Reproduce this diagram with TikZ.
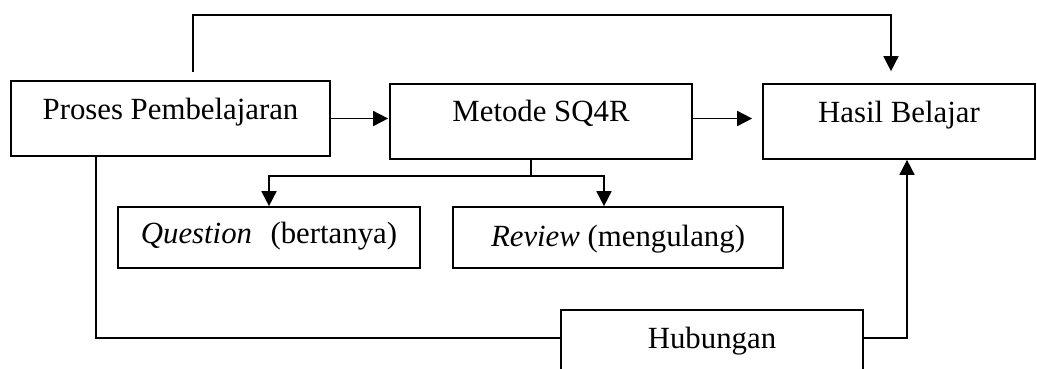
\documentclass[tikz,border=0pt]{standalone}
\usepackage{fontspec}
\setmainfont{Liberation Serif}
\usetikzlibrary{arrows.meta}
\begin{document}
\begin{tikzpicture}[x=1pt,y=-1pt,
  box/.style={draw,line width=1.7pt,inner sep=0pt,text height=21pt,text depth=3pt,
    font=\fontsize{30.8}{37}\selectfont},
  conn/.style={line width=1.7pt},
  arr/.style={conn,-{Triangle[length=15pt,width=15pt]}}]
\useasboundingbox (0,0) rectangle (1037,368);
\clip (0,0) rectangle (1037,368);
\node[box,minimum width=319pt,minimum height=75pt,text depth=20pt] (P) at (170.5,118.5) {Proses Pembelajaran};
\node[box,minimum width=302pt,minimum height=75pt,text depth=22pt] (M) at (541,121.5) {Metode SQ4R};
\node[box,minimum width=272pt,minimum height=75pt,text depth=20pt] (H) at (899,121.5) {Hasil Belajar};
\node[box,minimum width=302pt,minimum height=61pt,text depth=10pt] (Q) at (269,237.5) {\textit{Question}\hspace{0.6em}(bertanya)};
\node[box,minimum width=330pt,minimum height=61pt,text depth=4pt] (R) at (618,237.5) {\textit{Review} (mengulang)};
\node[box,minimum width=302pt,minimum height=62pt,text depth=7pt] (Hb) at (712,341) {Hubungan};
% top connector
\draw[arr] ([xshift=183pt,yshift=8pt]P.north west) -- ++(0,-57) -| ([xshift=-8pt,yshift=12pt]H.north);
% main row
\draw[arr,shorten >=1pt] (P.east) -- (P.east -| M.west);
\draw[arr,shorten >=10pt] (P.east -| M.east) -- (P.east -| H.west);
% branch from Metode
\coordinate (br) at ([xshift=-10pt,yshift=-16pt]M.south);
\draw[conn] ([xshift=-10pt]M.south) -- (br);
\draw[arr] (br) -| (Q.north);
\draw[arr] (br) -| ([xshift=-14pt]R.north);
% Proses to Hubungan
\draw[conn] ([xshift=86pt]P.south west) |- ([yshift=3pt]Hb.west);
% Hubungan to Hasil
\draw[arr] ([yshift=3pt]Hb.east) -| ([xshift=8pt]H.south);
\end{tikzpicture}
\end{document}
